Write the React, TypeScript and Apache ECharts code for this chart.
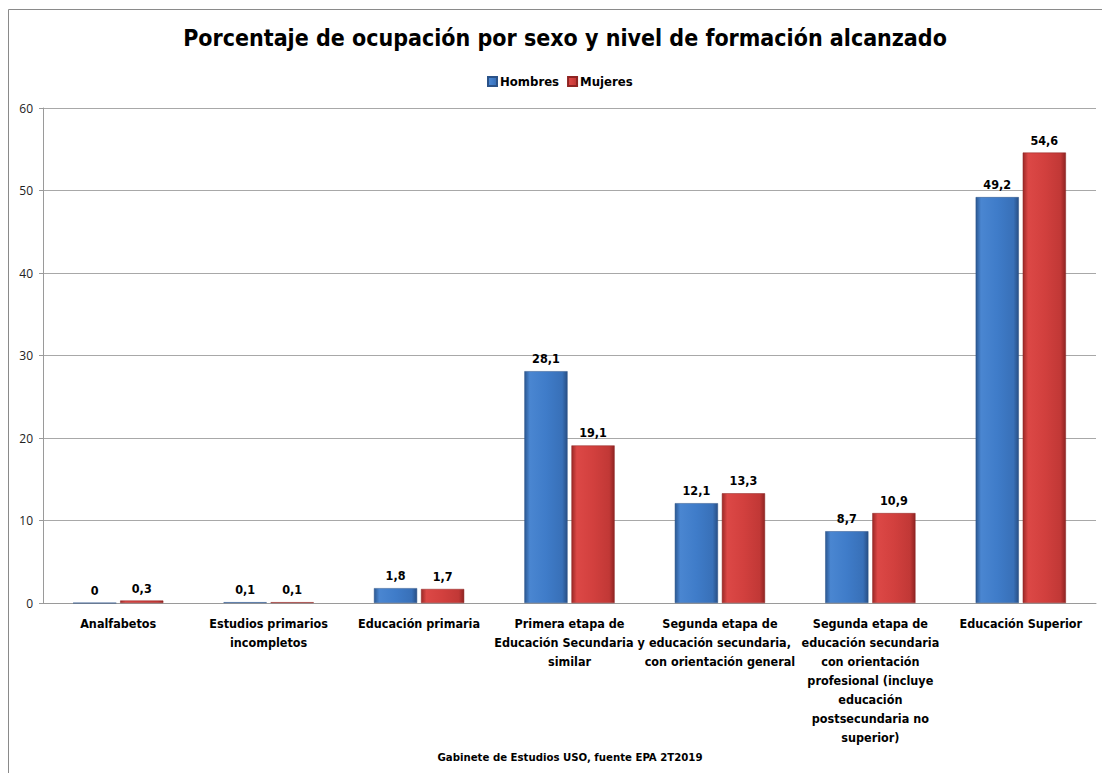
import React, { useEffect, useRef } from "react";
import * as echarts from "echarts";

const categories = [
  "Analfabetos",
  "Estudios primarios\nincompletos",
  "Educación primaria",
  "Primera etapa de\nEducación Secundaria y\nsimilar",
  "Segunda etapa de\neducación secundaria,\ncon orientación general",
  "Segunda etapa de\neducación secundaria\ncon orientación\nprofesional (incluye\neducación\npostsecundaria no\nsuperior)",
  "Educación Superior",
];
const hombres = [0, 0.1, 1.8, 28.1, 12.1, 8.7, 49.2];
const mujeres = [0.3, 0.1, 1.7, 19.1, 13.3, 10.9, 54.6];
const yTicks = { min: 0, max: 60, interval: 10 };

const FONT = "'DejaVu Sans Condensed', 'Open Sans', sans-serif";

const blueGrad = new echarts.graphic.LinearGradient(0, 0, 1, 0, [
  { offset: 0, color: "#2b5892" },
  { offset: 0.12, color: "#4a86d1" },
  { offset: 0.5, color: "#3f7cc9" },
  { offset: 0.88, color: "#3870b8" },
  { offset: 1, color: "#284f85" },
]);
const redGrad = new echarts.graphic.LinearGradient(0, 0, 1, 0, [
  { offset: 0, color: "#9c2927" },
  { offset: 0.12, color: "#dc4846" },
  { offset: 0.5, color: "#d2403e" },
  { offset: 0.88, color: "#c13836" },
  { offset: 1, color: "#8f2422" },
]);

export default function App() {
  const ref = useRef<HTMLDivElement>(null);
  useEffect(() => {
    const chart = echarts.init(ref.current!, null, { renderer: "svg" });
    const label = {
      show: true,
      position: "top",
      distance: 6,
      fontFamily: FONT,
      fontWeight: "bold",
      fontSize: 12.5,
      color: "#000",
      formatter: (p: any) => String(p.value).replace(".", ","),
    };
    chart.setOption({
      animation: false,
      backgroundColor: "#fff",
      textStyle: { fontFamily: FONT },
      title: {
        text: "Porcentaje de ocupación por sexo y nivel de formación alcanzado",
        left: 560,
        textAlign: "center",
        top: 21,
        textStyle: { fontFamily: FONT, fontWeight: "bold", fontSize: 23, color: "#000" },
      },
      legend: {
        data: ["Hombres", "Mujeres"],
        left: 560 - 78,
        top: 70,
        itemWidth: 9,
        itemHeight: 9,
        itemGap: 8,
        icon: "rect",
        textStyle: { fontFamily: FONT, fontWeight: "bold", fontSize: 13, color: "#000", padding: [0, 0, 0, -2] },
      },
      grid: { left: 43, right: 6, top: 108, bottom: 170, containLabel: false },
      xAxis: {
        type: "category",
        data: categories,
        axisLine: { lineStyle: { color: "#9a9a9a" } },
        axisTick: { show: false },
        axisLabel: {
          interval: 0,
          fontFamily: FONT,
          fontWeight: "bold",
          fontSize: 12.5,
          color: "#000",
          lineHeight: 19,
          margin: 11,
          verticalAlign: "top",
        },
      },
      yAxis: {
        type: "value",
        min: yTicks.min,
        max: yTicks.max,
        interval: yTicks.interval,
        axisLine: { show: true, lineStyle: { color: "#9a9a9a" } },
        axisTick: { show: true, length: 4, lineStyle: { color: "#9a9a9a" } },
        axisLabel: { fontFamily: "'Open Sans', sans-serif", fontSize: 12, color: "#222", margin: 10 },
        splitLine: { lineStyle: { color: "#a8a8a8" } },
      },
      series: [
        {
          name: "Hombres",
          type: "bar",
          data: hombres,
          barGap: "9%",
          barCategoryGap: "40%",
          itemStyle: { color: blueGrad, borderColor: "#2a5288", borderWidth: 0.5 },
          label,
        },
        {
          name: "Mujeres",
          type: "bar",
          data: mujeres,
          itemStyle: { color: redGrad, borderColor: "#8f2422", borderWidth: 0.5 },
          label,
        },
      ],
      graphic: [
        {
          type: "rect",
          shape: { x: 8.5, y: 9.5, width: 1200, height: 900 },
          style: { fill: "none", stroke: "#8a8a8a", lineWidth: 1 },
          silent: true,
        },
        {
          type: "text",
          x: 570,
          y: 757,
          style: {
            text: "Gabinete de Estudios USO, fuente EPA 2T2019",
            fontFamily: FONT,
            fontWeight: "bold",
            fontSize: 11.3,
            fill: "#000",
            align: "center",
            verticalAlign: "middle",
          },
        },
      ],
    });
    return () => chart.dispose();
  }, []);
  return <div ref={ref} style={{ width: 1102, height: 773, position: "absolute", left: 0, top: 0 }} />;
}
